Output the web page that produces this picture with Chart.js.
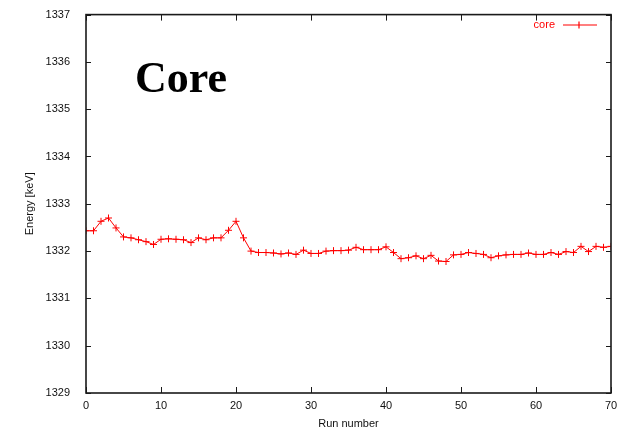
<!DOCTYPE html>
<html>
<head>
<meta charset="utf-8">
<script src="https://cdn.jsdelivr.net/npm/chart.js@4/dist/chart.umd.min.js"></script>
<style>
  html, body { margin: 0; padding: 0; background: #fff; }
  #wrap { width: 632px; height: 436px; }
</style>
</head>
<body>
<div id="wrap"><canvas id="c" width="632" height="436"></canvas></div>
<script>
// Run numbers and measured core energy per run (keV)
const runs = [0,1,2,3,4,5,6,7,8,9,10,11,12,13,14,15,16,17,18,19,20,
  21,22,23,24,25,26,27,28,29,30,31,32,33,34,35,36,37,38,39,40,
  41,42,43,44,45,46,47,48,49,50,51,52,53,54,55,56,57,58,59,60,
  61,62,63,64,65,66,67,68,69,70];
const coreEnergy = [
  1332.43, 1332.43, 1332.63, 1332.70, 1332.49, 1332.30, 1332.28, 1332.24, 1332.20, 1332.14,
  1332.25, 1332.26, 1332.25, 1332.24, 1332.18, 1332.28, 1332.24, 1332.28, 1332.28, 1332.44,
  1332.63, 1332.28, 1332.00, 1331.97, 1331.97, 1331.96, 1331.94, 1331.96, 1331.93, 1332.02,
  1331.95, 1331.95, 1332.00, 1332.01, 1332.01, 1332.02, 1332.08, 1332.03, 1332.03, 1332.03,
  1332.09, 1331.97, 1331.84, 1331.86, 1331.90, 1331.84, 1331.91, 1331.79, 1331.78, 1331.92,
  1331.93, 1331.97, 1331.95, 1331.93, 1331.86, 1331.90, 1331.92, 1331.93, 1331.93, 1331.96,
  1331.93, 1331.93, 1331.97, 1331.93, 1331.99, 1331.97, 1332.10, 1331.99, 1332.10, 1332.08,
  1332.10
];
const xTicks = [0, 10, 20, 30, 40, 50, 60, 70];
const yTicks = [1329, 1330, 1331, 1332, 1333, 1334, 1335, 1336, 1337];
const seriesName = 'core';
const plotTitle = 'Core';

const RED = '#ff0000';
const FONT = '"Liberation Sans", Arial, sans-serif';

// Frame, inward mirrored ticks, big title and the legend entry
const framePlugin = {
  id: 'frame',
  afterDatasetsDraw(chart) {
    const { ctx, chartArea: a, scales } = chart;
    const xs = scales.x, ys = scales.y;
    ctx.save();
    ctx.strokeStyle = '#1a1a1a';
    ctx.lineWidth = 1;
    ctx.beginPath();
    xTicks.forEach(v => {
      const px = Math.round(xs.getPixelForValue(v)) + 0.5;
      ctx.moveTo(px, a.bottom); ctx.lineTo(px, a.bottom - 6);
      ctx.moveTo(px, a.top); ctx.lineTo(px, a.top + 6);
    });
    yTicks.forEach(v => {
      const py = Math.round(ys.getPixelForValue(v)) + 0.5;
      ctx.moveTo(a.left, py); ctx.lineTo(a.left + 5, py);
      ctx.moveTo(a.right, py); ctx.lineTo(a.right - 5, py);
    });
    ctx.stroke();
    ctx.lineWidth = 1.6;
    ctx.strokeRect(a.left, a.top, a.right - a.left, a.bottom - a.top);

    // plot heading
    ctx.fillStyle = '#000';
    ctx.font = 'bold 44px "Liberation Serif", "Times New Roman", serif';
    ctx.textBaseline = 'alphabetic';
    ctx.textAlign = 'left';
    ctx.fillText(plotTitle, 135, 92);

    // legend entry
    ctx.fillStyle = RED;
    ctx.font = '11px ' + FONT;
    ctx.textAlign = 'right';
    ctx.textBaseline = 'middle';
    ctx.fillText(seriesName, 555, 25);
    ctx.strokeStyle = RED;
    ctx.lineWidth = 1.2;
    ctx.beginPath();
    ctx.moveTo(563, 25); ctx.lineTo(597, 25);
    ctx.moveTo(579, 21.5); ctx.lineTo(579, 28.5);
    ctx.moveTo(575.5, 25); ctx.lineTo(582.5, 25);
    ctx.stroke();
    ctx.restore();
  }
};

new Chart(document.getElementById('c'), {
  type: 'line',
  data: {
    datasets: [{
      label: seriesName,
      data: coreEnergy.map((e, i) => ({ x: runs[i], y: e })),
      borderColor: RED,
      backgroundColor: RED,
      borderWidth: 1,
      pointStyle: 'cross',
      pointRadius: 3.5,
      pointBorderWidth: 1,
      pointBorderColor: RED,
      tension: 0,
      fill: false
    }]
  },
  options: {
    responsive: false,
    animation: false,
    events: [],
    layout: { padding: { left: 0, top: 13, right: 21, bottom: 0 } },
    plugins: { legend: { display: false }, tooltip: { enabled: false } },
    scales: {
      x: {
        type: 'linear',
        min: 0, max: 70,
        afterBuildTicks: s => { s.ticks = xTicks.map(v => ({ value: v })); },
        afterFit: s => { s.height = 43; },
        grid: { display: false },
        border: { display: false },
        ticks: { color: '#111', font: { family: FONT, size: 11 }, padding: -2, maxRotation: 0,
                 callback: v => String(v) },
        title: { display: true, text: 'Run number', color: '#111', font: { family: FONT, size: 11 }, padding: { top: 0, bottom: 5 } }
      },
      y: {
        min: 1329, max: 1337,
        afterBuildTicks: s => { s.ticks = yTicks.map(v => ({ value: v })); },
        afterFit: s => { s.width = 86; },
        grid: { display: false },
        border: { display: false },
        ticks: { color: '#111', font: { family: FONT, size: 11 }, padding: 8,
                 callback: v => String(v) },
        title: { display: true, text: 'Energy [keV]', color: '#111', font: { family: FONT, size: 11 }, padding: { top: 23, bottom: 0 } }
      }
    }
  },
  plugins: [framePlugin]
});
</script>
</body>
</html>
